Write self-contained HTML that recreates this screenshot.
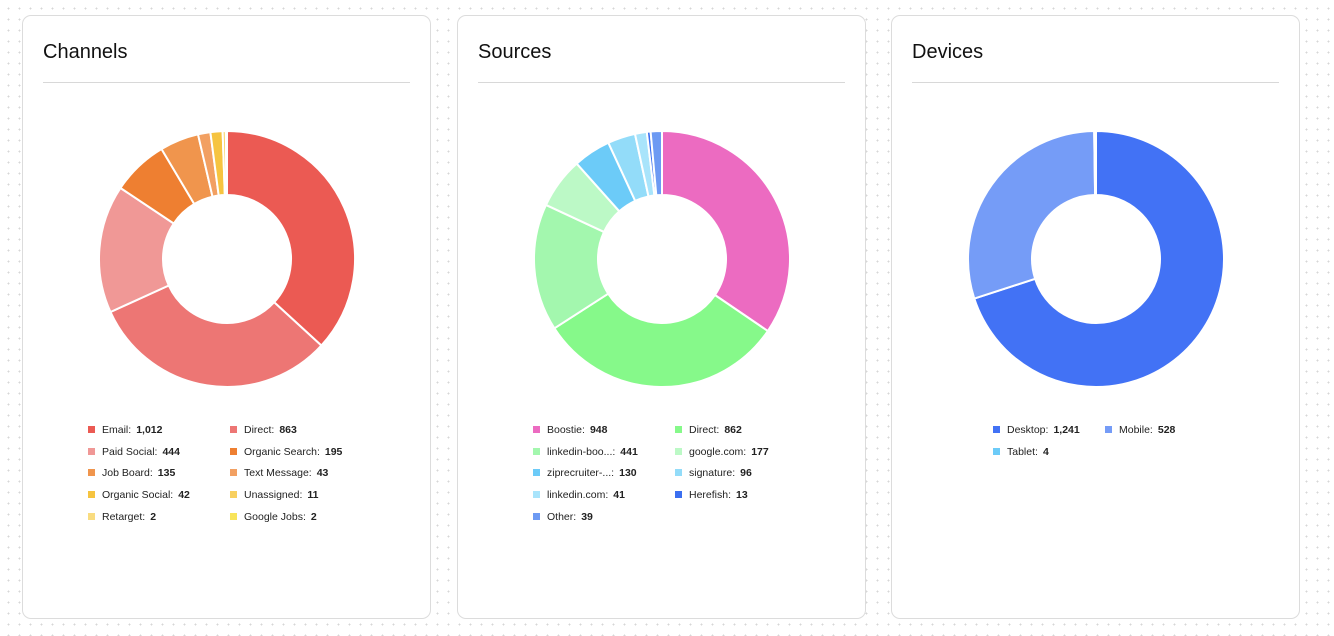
<!DOCTYPE html>
<html><head><meta charset="utf-8"><style>
*{margin:0;padding:0;box-sizing:border-box}
body{width:1334px;height:636px;background:#fff;background-image:radial-gradient(#d6d6d6 0.8px,transparent 1px);background-size:11px 11px;background-position:3px 3px;font-family:"Liberation Sans",sans-serif;position:relative;overflow:hidden}
.card{position:absolute;top:15px;width:409px;height:604px;background:#fff;border:1px solid #dcdcdc;border-radius:9px}
.title{position:absolute;left:20px;top:25px;font-size:20px;color:#111}
.sep{position:absolute;left:20px;right:20px;top:66px;border-top:1px solid #d8d8d8}
svg{position:absolute;left:0;top:0}
.lg{position:absolute;font-size:10.5px;color:#222;white-space:nowrap;line-height:12px}
.lg i{display:inline-block;width:7px;height:7px;margin-right:7px;vertical-align:0px}
.lg b{margin-left:5px;font-weight:bold}
</style></head><body>
<div class="card" id="c0" style="left:22px"><div class="title">Channels</div><div class="sep"></div></div>
<div class="card" id="c1" style="left:457px"><div class="title">Sources</div><div class="sep"></div></div>
<div class="card" id="c2" style="left:891px"><div class="title">Devices</div><div class="sep"></div></div>
<script>
var data=[
 {cx:204,lx:[65,207],items:[["Email","1,012",1012,"#eb5a53"],["Direct","863",863,"#ed7674"],["Paid Social","444",444,"#f09896"],["Organic Search","195",195,"#ee7f31"],["Job Board","135",135,"#f0954d"],["Text Message","43",43,"#f2a062"],["Organic Social","42",42,"#f6c440"],["Unassigned","11",11,"#f8d060"],["Retarget","2",2,"#f9dc80"],["Google Jobs","2",2,"#f8e45a"]]},
 {cx:204,lx:[75,217],items:[["Boostie","948",948,"#ec6bc1"],["Direct","862",862,"#86f98a"],["linkedin-boo...","441",441,"#a3f7ae"],["google.com","177",177,"#bcf9c6"],["ziprecruiter-...","130",130,"#6ccbf8"],["signature","96",96,"#93dcf9"],["linkedin.com","41",41,"#a9e4fb"],["Herefish","13",13,"#3b6ff0"],["Other","39",39,"#6d9af3"]]},
 {cx:204,lx:[101,213],items:[["Desktop","1,241",1241,"#4272f5"],["Mobile","528",528,"#759cf7"],["Tablet","4",4,"#6ccbf8"]]}
];
var NS="http://www.w3.org/2000/svg";
data.forEach(function(d,k){
 var c=document.getElementById("c"+k);
 var svg=document.createElementNS(NS,"svg");svg.setAttribute("width",409);svg.setAttribute("height",604);
 var tot=d.items.reduce(function(s,x){return s+x[2]},0),a=0,cx=d.cx,cy=243,R=128,r=64;
 d.items.forEach(function(it){
  var a1=a+it[2]/tot*Math.PI*2;
  function p(rad,ang){return [cx+rad*Math.sin(ang),cy-rad*Math.cos(ang)]}
  var large=(a1-a)>Math.PI?1:0,A=p(R,a),B=p(R,a1),C=p(r,a1),D=p(r,a);
  var path=document.createElementNS(NS,"path");
  path.setAttribute("d","M"+A+" A"+R+" "+R+" 0 "+large+" 1 "+B+" L"+C+" A"+r+" "+r+" 0 "+large+" 0 "+D+"Z");
  path.setAttribute("fill",it[3]);path.setAttribute("stroke","#fff");path.setAttribute("stroke-width","2");path.setAttribute("stroke-linejoin","round");
  svg.appendChild(path);a=a1;
 });
 c.appendChild(svg);
 d.items.forEach(function(it,i){
  var e=document.createElement("div");e.className="lg";
  e.style.left=d.lx[i%2]+"px";e.style.top=(408+Math.floor(i/2)*21.7)+"px";
  e.innerHTML='<i style="background:'+it[3]+'"></i>'+it[0]+':<b>'+it[1]+'</b>';
  c.appendChild(e);
 });
});
</script>
</body></html>
